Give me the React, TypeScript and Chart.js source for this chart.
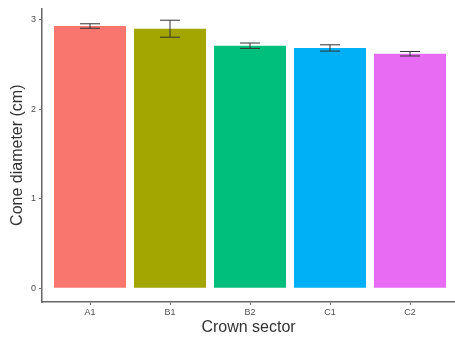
import React, { useEffect, useRef } from "react";
import { Chart, registerables } from "chart.js";

Chart.register(...registerables);

const categories = ["A1", "B1", "B2", "C1", "C2"];
const means = [2.93, 2.90, 2.71, 2.685, 2.62];
const errors = [0.025, 0.095, 0.03, 0.035, 0.025];
const barColors = ["#F8766D", "#A3A500", "#00BF7D", "#00B0F6", "#E76BF3"];
const yTicks = [0, 1, 2, 3];
const yMin = -0.155;
const yMax = 3.127;
const xMin = 0.4;
const xMax = 5.5625;
const capWidth = 0.25;

const errorBarPlugin = {
  id: "errorBars",
  afterDatasetsDraw(chart: any) {
    const { ctx, scales } = chart;
    const xs = scales.x;
    const ys = scales.y;
    ctx.save();
    ctx.strokeStyle = "#333333";
    ctx.lineWidth = 1;
    categories.forEach((_, i) => {
      const cx = xs.getPixelForValue(i + 1);
      const half = Math.abs(xs.getPixelForValue(i + 1 + capWidth / 2) - cx);
      const top = ys.getPixelForValue(means[i] + errors[i]);
      const bot = ys.getPixelForValue(means[i] - errors[i]);
      ctx.beginPath();
      ctx.moveTo(cx, top);
      ctx.lineTo(cx, bot);
      ctx.moveTo(cx - half, top);
      ctx.lineTo(cx + half, top);
      ctx.moveTo(cx - half, bot);
      ctx.lineTo(cx + half, bot);
      ctx.stroke();
    });
    ctx.restore();
  },
};

export default function App() {
  const ref = useRef<HTMLCanvasElement>(null);
  useEffect(() => {
    if (!ref.current) return;
    const chart = new Chart(ref.current, {
      type: "bar",
      data: {
        datasets: [
          {
            data: categories.map((c, i) => ({ x: i + 1, y: means[i] })),
            backgroundColor: barColors,
            borderWidth: 0,
            barPercentage: 0.9,
            categoryPercentage: 1.0,
          },
        ],
      },
      options: {
        animation: false,
        responsive: false,
        devicePixelRatio: 1,
        layout: { padding: { top: 5, right: 0, left: 0, bottom: 0 } },
        plugins: { legend: { display: false }, tooltip: { enabled: false } },
        scales: {
          x: {
            type: "linear",
            offset: false,
            min: xMin,
            max: xMax,
            afterBuildTicks: (s: any) => {
              s.ticks = categories.map((_, i) => ({ value: i + 1 }));
            },
            afterFit: (s: any) => {
              s.height = 37;
            },
            ticks: {
              autoSkip: false,
              maxRotation: 0,
              padding: 2,
              color: "#4d4d4d",
              font: { family: "Liberation Sans", size: 9 },
              callback: (v: any) => categories[Math.round(Number(v)) - 1] ?? "",
            },
            grid: {
              display: true,
              offset: false,
              drawOnChartArea: false,
              drawTicks: true,
              tickLength: 3,
              color: "#777777",
            },
            border: { display: true, color: "#666666", width: 1.5 },
            title: {
              display: true,
              text: "Crown sector",
              color: "#333333",
              font: { family: "Liberation Sans", size: 16 },
              padding: { top: 0, bottom: 2 },
            },
          },
          y: {
            type: "linear",
            min: yMin,
            max: yMax,
            afterBuildTicks: (s: any) => {
              s.ticks = yTicks.map((v) => ({ value: v }));
            },
            afterFit: (s: any) => {
              s.width = 42;
            },
            ticks: {
              padding: 3,
              color: "#4d4d4d",
              font: { family: "Liberation Sans", size: 9 },
            },
            grid: {
              display: true,
              drawOnChartArea: false,
              drawTicks: true,
              tickLength: 3,
              color: "#777777",
            },
            border: { display: true, color: "#666666", width: 1.5 },
            title: {
              display: true,
              text: "Cone diameter (cm)",
              color: "#333333",
              font: { family: "Liberation Sans", size: 16 },
              padding: { top: 8, bottom: 0 },
            },
          },
        },
      },
      plugins: [errorBarPlugin],
    });
    return () => chart.destroy();
  }, []);
  return (
    <div style={{ position: "absolute", left: 0, top: 0, width: 455, height: 339, background: "#ffffff" }}>
      <canvas ref={ref} width={455} height={339} />
    </div>
  );
}
